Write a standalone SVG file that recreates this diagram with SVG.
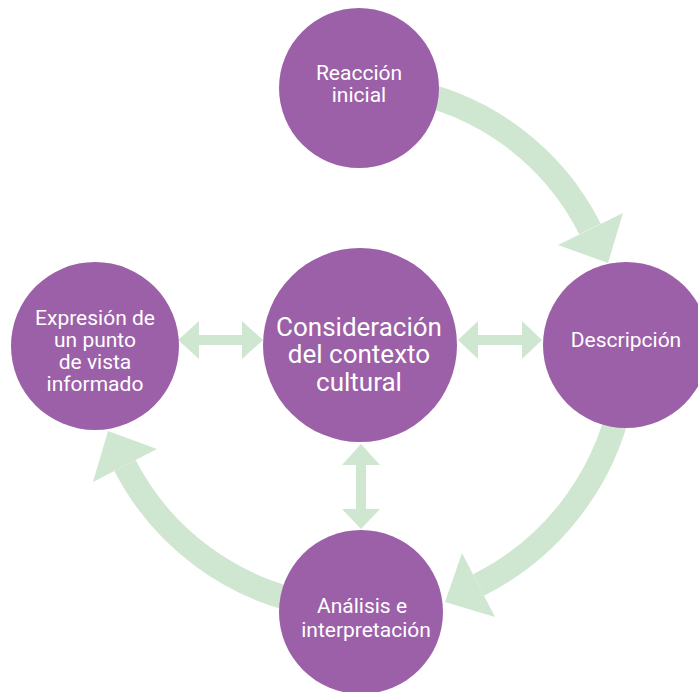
<svg xmlns="http://www.w3.org/2000/svg" width="698" height="692" viewBox="0 0 698 692">
<style>
.node{fill:#9c60a8}
.arc{fill:none;stroke:#cfe7d1;stroke-width:24}
.head{fill:#cfe7d1}
text{font-family:Roboto,"Liberation Sans",sans-serif;fill:#ffffff;text-anchor:middle}
.t{font-size:21px}
.big{font-size:26px}
</style>
<rect width="698" height="692" fill="#ffffff"/>
<g id="connectors">
<path class="arc" d="M404,90 A259,259 0 0 1 590,229"/>
<polygon class="head" points="558,245 623,213 608,263"/>
<path class="arc" d="M624,382 A268,268 0 0 1 478.5,585"/>
<polygon class="head" points="462,553 495,617 445,602"/>
<path class="arc" d="M313,604 A263,263 0 0 1 125,465.5"/>
<polygon class="head" points="93,482 157,449 108,431"/>
<polygon class="head" points="178,340 199,321 199,335 242,335 242,321 263,340 242,359 242,345 199,345 199,359"/>
<polygon class="head" points="458,340 478,321 478,335 522,335 522,321 542,340 522,359 522,345 478,345 478,359"/>
<polygon class="head" points="361,444 380,465 366,465 366,509 380,509 361,529 342,509 356,509 356,465 342,465"/>
</g>
<g id="reaccion">
<circle class="node" cx="359" cy="88" r="80"/>
<text class="t" x="359" y="80">Reacción</text>
<text class="t" x="359" y="102">inicial</text>
</g>
<g id="consideracion">
<circle class="node" cx="360" cy="345" r="97"/>
<text class="big" x="359" y="336">Consideración</text>
<text class="big" x="359" y="363">del contexto</text>
<text class="big" x="359" y="391">cultural</text>
</g>
<g id="expresion">
<circle class="node" cx="95" cy="346" r="84"/>
<text class="t" x="95" y="325">Expresión de</text>
<text class="t" x="95" y="347">un punto</text>
<text class="t" x="95" y="369">de vista</text>
<text class="t" x="95" y="391">informado</text>
</g>
<g id="descripcion">
<circle class="node" cx="626" cy="345" r="83"/>
<text class="t" x="626" y="347">Descripción</text>
</g>
<g id="analisis">
<circle class="node" cx="361" cy="612" r="82"/>
<text class="t" x="362" y="613">Análisis e</text>
<text class="t" x="366" y="637">interpretación</text>
</g>
</svg>
